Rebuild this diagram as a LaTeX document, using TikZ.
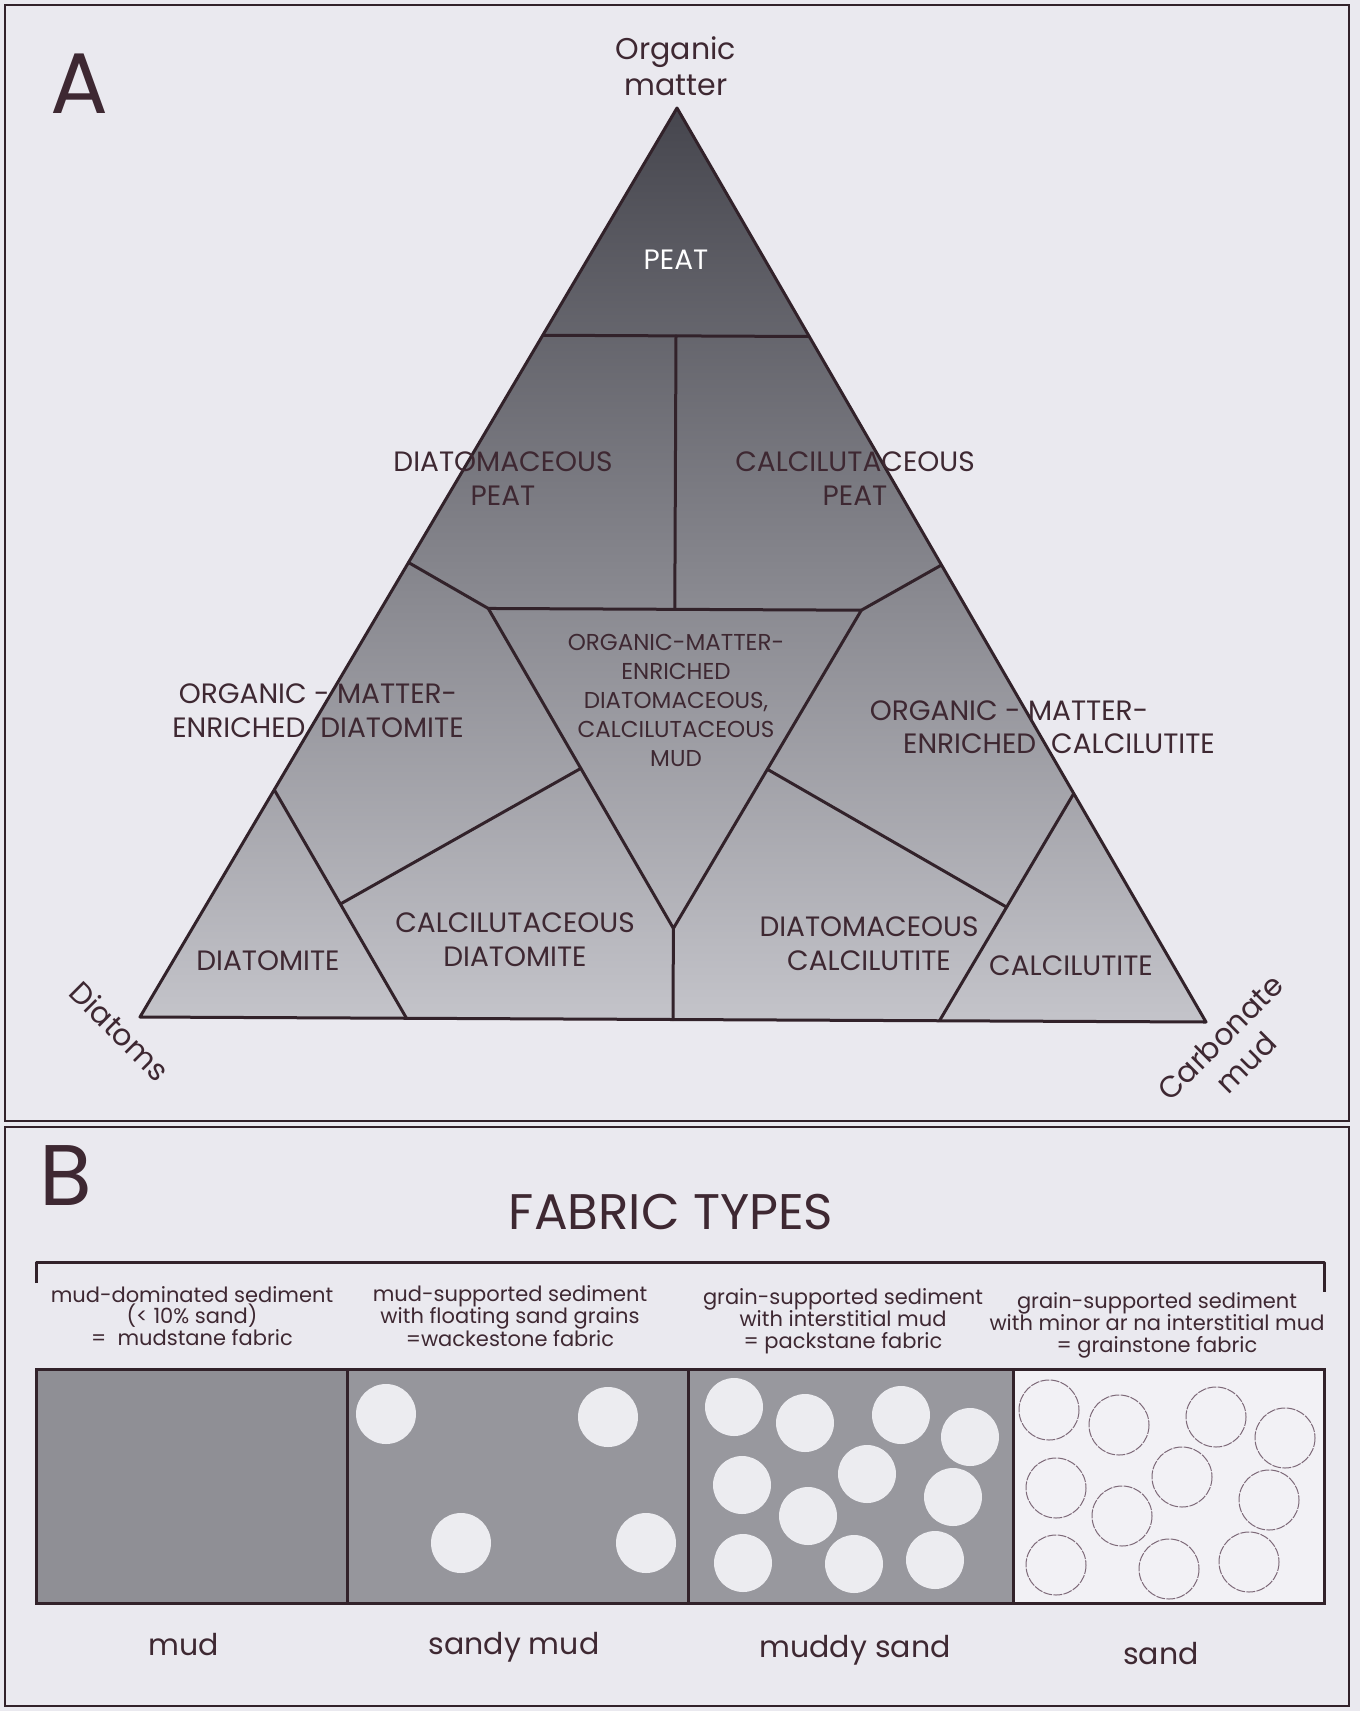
\documentclass[tikz,border=0pt]{standalone}
\usepackage{fontspec}
\setmainfont{Poppins}
\usetikzlibrary{calc}
\definecolor{pagebg}{RGB}{234,233,239}
\definecolor{ink}{RGB}{50,34,42}
\definecolor{txt}{RGB}{62,40,50}
\definecolor{triA}{RGB}{70,70,78}
\definecolor{triB}{RGB}{124,124,131}
\definecolor{triC}{RGB}{196,196,202}
\definecolor{mudc}{RGB}{143,143,149}
\definecolor{smudc}{RGB}{150,150,156}
\definecolor{msandc}{RGB}{152,152,158}
\definecolor{sandc}{RGB}{242,241,245}
\definecolor{grainc}{RGB}{236,236,240}
\definecolor{ringc}{RGB}{125,105,120}
\tikzset{
  edge/.style={draw=ink,line width=3pt,line join=round,line cap=round},
  frame/.style={draw=ink,line width=2.5pt},
  lab/.style={text=txt,align=center,inner sep=0pt,font=\fontsize{28}{34}\selectfont},
  smalllab/.style={text=txt,align=center,inner sep=0pt,font=\fontsize{23}{29}\selectfont},
  desc/.style={text=txt,align=center,inner sep=0pt,font=\fontsize{21}{21.5}\selectfont},
  bottomlab/.style={text=txt,align=center,inner sep=0pt,font=\fontsize{30}{36}\selectfont},
  corner/.style={text=txt,align=center,inner sep=0pt,font=\fontsize{30}{36}\selectfont},
  bigletter/.style={text=txt,inner sep=0pt,font=\fontsize{86}{90}\selectfont},
  grain/.style={fill=grainc},
  ring/.style={draw=ringc,line width=1pt,dash pattern=on 9pt off 1.2pt},
  box/.style={draw=ink,line width=3pt}
}
\begin{document}
\begin{tikzpicture}[x=1pt,y=-1pt]
\useasboundingbox (0,0) rectangle (1360,1711);
\fill[pagebg] (0,0) rectangle (1360,1711);
% panel frames
\draw[frame] (5,5) rectangle (1349,1121);
\draw[frame] (5,1127) rectangle (1349,1706);

% ---------- Panel A ----------
\node[bigletter] (letA) at (79,84) {A};
\coordinate (O) at (677,108);
\coordinate (D) at (140,1017);
\coordinate (C) at (1206,1022);
\shade[top color=triA, middle color=triB, bottom color=triC] (O) -- (D) -- (C) -- cycle;

\coordinate (p75l) at (barycentric cs:O=0.75,D=0.25,C=0);
\coordinate (p75r) at (barycentric cs:O=0.75,D=0,C=0.25);
\coordinate (p75m) at (barycentric cs:O=0.75,D=0.125,C=0.125);
\coordinate (ittop) at (barycentric cs:O=0.45,D=0.275,C=0.275);
\coordinate (itl) at (barycentric cs:O=0.45,D=0.45,C=0.10);
\coordinate (itr) at (barycentric cs:O=0.45,D=0.10,C=0.45);
\coordinate (itb) at (barycentric cs:O=0.10,D=0.45,C=0.45);
\coordinate (e50l) at (barycentric cs:O=0.5,D=0.5,C=0);
\coordinate (e50r) at (barycentric cs:O=0.5,D=0,C=0.5);
\coordinate (b50) at (barycentric cs:O=0,D=0.5,C=0.5);
\coordinate (d75a) at (barycentric cs:O=0.25,D=0.75,C=0);
\coordinate (d75b) at (barycentric cs:O=0,D=0.75,C=0.25);
\coordinate (c75a) at (barycentric cs:O=0.25,D=0,C=0.75);
\coordinate (c75b) at (barycentric cs:O=0,D=0.25,C=0.75);
\coordinate (itlm) at (barycentric cs:O=0.275,D=0.45,C=0.275);
\coordinate (d75m) at (barycentric cs:O=0.125,D=0.75,C=0.125);
\coordinate (itrm) at (barycentric cs:O=0.275,D=0.275,C=0.45);
\coordinate (c75m) at (barycentric cs:O=0.125,D=0.125,C=0.75);

\draw[edge] (p75l) -- (p75r);
\draw[edge] (p75m) -- (ittop);
\draw[edge] (itl) -- (itr) -- (itb) -- cycle;
\draw[edge] (e50l) -- (itl);
\draw[edge] (e50r) -- (itr);
\draw[edge] (itb) -- (b50);
\draw[edge] (d75a) -- (d75b);
\draw[edge] (c75a) -- (c75b);
\draw[edge] (itlm) -- (d75m);
\draw[edge] (itrm) -- (c75m);
\draw[edge] (O) -- (D) -- (C) -- cycle;

% corner labels
\node[corner] (omlab) at (676,66) {Organic\\matter};
\node[corner,rotate=-45] (dialab) at (120,1031) {Diatoms};
\node[corner,rotate=45] (carblab) at (1233,1050) {Carbonate\\mud};

% region labels
\node[lab,text=white] (peat) at (676,260) {PEAT};
\node[lab] (diapeat) at (503,479) {DIATOMACEOUS\\PEAT};
\node[lab] (calpeat) at (855,479) {CALCILUTACEOUS\\PEAT};
\node[smalllab] (center) at (676,700) {ORGANIC-MATTER-\\ENRICHED\\DIATOMACEOUS,\\CALCILUTACEOUS\\MUD};
\node[lab] (omdia) at (318,711) {ORGANIC - MATTER-\\ENRICHED \ DIATOMITE};
\node[lab] (omcal1) at (1009,711) {ORGANIC - MATTER-};
\node[lab] (omcal2) at (1059,744) {ENRICHED \ CALCILUTITE};
\node[lab] (diat) at (268,961) {DIATOMITE};
\node[lab] (caldia) at (515,940) {CALCILUTACEOUS\\DIATOMITE};
\node[lab] (diacal) at (869,944) {DIATOMACEOUS\\CALCILUTITE};
\node[lab] (calc) at (1071,966) {CALCILUTITE};

% ---------- Panel B ----------
\node[bigletter] (letB) at (66,1176) {B};
\node[text=txt,inner sep=0pt,font=\fontsize{50}{56}\selectfont] (fab) at (671,1212) {FABRIC TYPES};
\draw[edge,line cap=butt] (36,1283) -- (36,1262) -- (1324,1262) -- (1324,1292);

\node[desc] (d1) at (192,1316) {mud-dominated sediment\\(< 10\% sand)\\=\ \ mudstane fabric};
\node[desc] (d2) at (510,1316) {mud-supported sediment\\with floating sand grains\\=wackestone fabric};
\node[desc] (d3) at (843,1321) {grain-supported sediment\\with interstitial mud\\= packstane fabric};
\node[desc] (d4) at (1157,1325) {grain-supported sediment\\with minor ar na interstitial mud\\= grainstone fabric};

% boxes
\fill[mudc] (36,1369) rectangle (347,1603);
\fill[smudc] (347,1369) rectangle (688,1603);
\fill[msandc] (688,1369) rectangle (1013,1603);
\fill[sandc] (1013,1369) rectangle (1324,1603);

% sandy mud grains
\foreach \x/\y in {386/1414, 608/1417, 461/1543, 646/1543}
  \fill[grain] (\x,\y) circle (30);
% muddy sand grains
\foreach \x/\y in {734/1407, 805/1423, 901/1415, 970/1437, 742/1485, 867/1474, 953/1497, 808/1516, 743/1563, 854/1564, 935/1560}
  \fill[grain] (\x,\y) circle (29);
% sand rings
\foreach \x/\y in {1049/1410, 1119/1425, 1216/1417, 1285/1438, 1056/1488, 1182/1477, 1269/1500, 1122/1516, 1056/1565, 1169/1569, 1249/1562}
  \draw[ring] (\x,\y) circle (30);

\draw[box] (36,1369) rectangle (1324,1603);
\draw[box] (347,1369) -- (347,1603);
\draw[box] (688,1369) -- (688,1603);
\draw[box] (1013,1369) -- (1013,1603);

\node[bottomlab] (l1) at (184,1645) {mud};
\node[bottomlab] (l2) at (514,1647) {sandy mud};
\node[bottomlab] (l3) at (855,1650) {muddy sand};
\node[bottomlab] (l4) at (1161,1654) {sand};
\end{tikzpicture}
\end{document}
